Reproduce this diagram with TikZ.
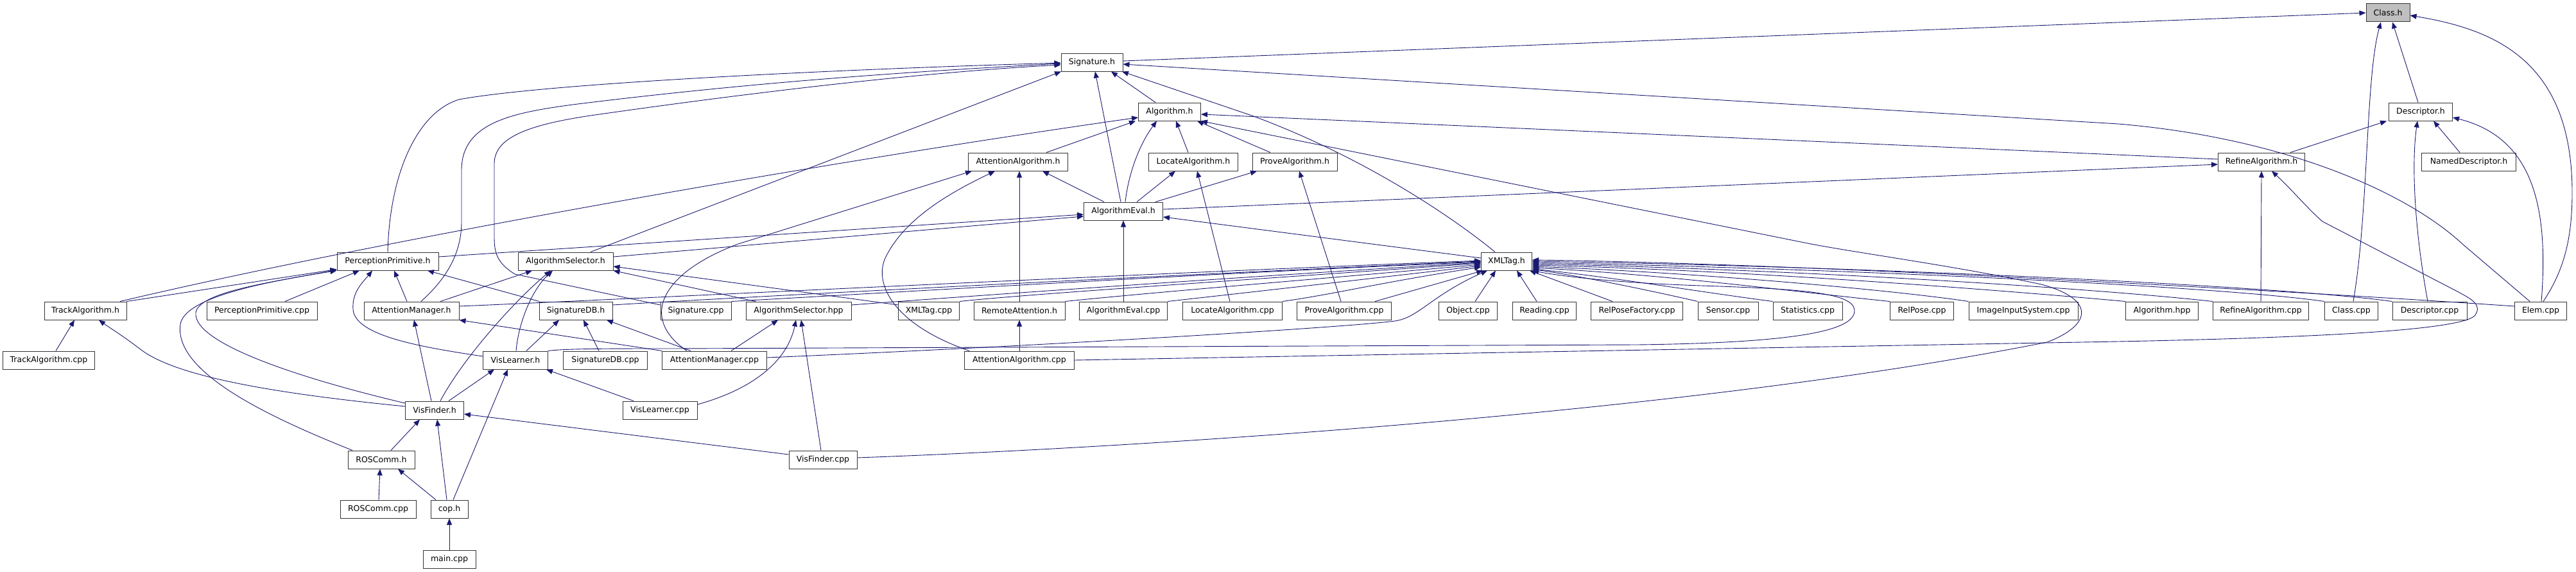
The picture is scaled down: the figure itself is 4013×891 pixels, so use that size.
\documentclass[tikz,border=0pt]{standalone}
\usepackage{fontspec}
\setmainfont{DejaVu Sans}
\usetikzlibrary{arrows.meta}
\definecolor{edgec}{HTML}{191970}
\definecolor{rootgray}{HTML}{BFBFBF}
\begin{document}
\begin{tikzpicture}[x=1pt,y=-1pt,
  box/.style={draw=black!80, line width=1pt, fill=white, minimum height=28pt, inner sep=0pt, text=black, font=\fontsize{12.5}{15}\selectfont},
  edge/.style={draw=edgec, line width=0.9pt, -{Triangle[length=10pt,width=8pt]}}]
\useasboundingbox (0,0) rectangle (4013,891);
% row 0-4
\node[box, fill=rootgray, minimum width=68pt] (classh) at (3720,20) {Class.h};
\node[box, minimum width=96pt] (sigh) at (1701,97) {Signature.h};
\node[box, minimum width=97pt] (algh) at (1822,174) {Algorithm.h};
\node[box, minimum width=99pt] (desch) at (3771,174) {Descriptor.h};
\node[box, minimum width=155pt] (aalgh) at (1586,252) {AttentionAlgorithm.h};
\node[box, minimum width=139pt] (locah) at (1859,252) {LocateAlgorithm.h};
\node[box, minimum width=132pt] (proveh) at (2017,252) {ProveAlgorithm.h};
\node[box, minimum width=135pt] (refh) at (3523,252) {RefineAlgorithm.h};
\node[box, minimum width=147pt] (ndesch) at (3846,252) {NamedDescriptor.h};
\node[box, minimum width=123pt] (aevalh) at (1750,329) {AlgorithmEval.h};
% row 5
\node[box, minimum width=158pt] (pph) at (604,407) {PerceptionPrimitive.h};
\node[box, minimum width=148pt] (ash) at (881,407) {AlgorithmSelector.h};
\node[box, minimum width=79pt] (xmlh) at (2347,407) {XMLTag.h};
% row 6
\node[box, minimum width=128pt] (trackh) at (133,484) {TrackAlgorithm.h};
\node[box, minimum width=172pt] (ppcpp) at (408,484) {PerceptionPrimitive.cpp};
\node[box, minimum width=148pt] (amh) at (641,484) {AttentionManager.h};
\node[box, minimum width=114pt] (sigdbh) at (897,484) {SignatureDB.h};
\node[box, minimum width=110pt] (sigcpp) at (1084,484) {Signature.cpp};
\node[box, minimum width=164pt] (ashpp) at (1244,484) {AlgorithmSelector.hpp};
\node[box, minimum width=95pt] (xmlcpp) at (1447,484) {XMLTag.cpp};
\node[box, minimum width=142pt] (remoteh) at (1588,484) {RemoteAttention.h};
\node[box, minimum width=137pt] (aevalcpp) at (1750,484) {AlgorithmEval.cpp};
\node[box, minimum width=155pt] (locacpp) at (1920,484) {LocateAlgorithm.cpp};
\node[box, minimum width=147pt] (provecpp) at (2094,484) {ProveAlgorithm.cpp};
\node[box, minimum width=91pt] (objcpp) at (2287,484) {Object.cpp};
\node[box, minimum width=99pt] (readcpp) at (2406,484) {Reading.cpp};
\node[box, minimum width=143pt] (rpfcpp) at (2550,484) {RelPoseFactory.cpp};
\node[box, minimum width=94pt] (sensorcpp) at (2692,484) {Sensor.cpp};
\node[box, minimum width=108pt] (statcpp) at (2816,484) {Statistics.cpp};
\node[box, minimum width=99pt] (relposecpp) at (2994,484) {RelPose.cpp};
\node[box, minimum width=170pt] (imgcpp) at (3152,484) {ImageInputSystem.cpp};
\node[box, minimum width=113pt] (alghpp) at (3368,484) {Algorithm.hpp};
\node[box, minimum width=149pt] (refcpp) at (3522,484) {RefineAlgorithm.cpp};
\node[box, minimum width=83pt] (classcpp) at (3663,484) {Class.cpp};
\node[box, minimum width=116pt] (desccpp) at (3785,484) {Descriptor.cpp};
\node[box, minimum width=81pt] (elemcpp) at (3958,484) {Elem.cpp};
% row 7-11
\node[box, minimum width=143pt] (trackcpp) at (76,561) {TrackAlgorithm.cpp};
\node[box, minimum width=101pt] (vislh) at (803,561) {VisLearner.h};
\node[box, minimum width=131pt] (sigdbcpp) at (943,561) {SignatureDB.cpp};
\node[box, minimum width=163pt] (amcpp) at (1113,561) {AttentionManager.cpp};
\node[box, minimum width=171pt] (aalgcpp) at (1588,561) {AttentionAlgorithm.cpp};
\node[box, minimum width=91pt] (visfh) at (677,639) {VisFinder.h};
\node[box, minimum width=116pt] (vislcpp) at (1028,639) {VisLearner.cpp};
\node[box, minimum width=104pt] (roscommh) at (594,716) {ROSComm.h};
\node[box, minimum width=106pt] (visfcpp) at (1282,716) {VisFinder.cpp};
\node[box, minimum width=118pt] (roscommcpp) at (589,793) {ROSComm.cpp};
\node[box, minimum width=58pt] (coph) at (700,793) {cop.h};
\node[box, minimum width=82pt] (maincpp) at (700,871) {main.cpp};

% ---- Class.h
\draw[edge] ([yshift=2pt]sigh.east) -- (classh.west);
\draw[edge] ([xshift=-4pt]desch.north) -- ([xshift=7pt]classh.south);
\draw[edge] ([xshift=3pt]classcpp.north) .. controls (3690,330) and (3685,120) .. ([xshift=-11pt]classh.south);
\draw[edge] ([xshift=4pt]elemcpp.north) .. controls (3995,420) and (4007,370) .. (4007,300) .. controls (4007,90) and (3880,45) .. ([yshift=-4pt]classh.east);
% ---- Signature.h
\draw[edge] (pph.north) .. controls (607,270) and (650,175) .. (715,155) .. controls (850,130) and (1300,108) .. ([yshift=-1pt]sigh.west);
\draw[edge] ([xshift=15pt]amh.north) .. controls (700,430) and (719,390) .. (719,345) -- (719,265) .. controls (719,190) and (800,175) .. (900,162) .. controls (1200,125) and (1450,110) .. ([yshift=-2pt]sigh.west);
\draw[edge] ([yshift=9pt]sigcpp.west) -- (802,427) .. controls (775,410) and (770,395) .. (770,370) -- (770,255) .. controls (770,215) and (820,195) .. (920,180) .. controls (1200,140) and (1450,112) .. ([yshift=-4pt]sigh.west);
\draw[edge] ([xshift=39pt]ash.north) -- ([xshift=-48pt]sigh.south);
\draw[edge] ([xshift=-4pt]aevalh.north) -- ([xshift=5pt]sigh.south);
\draw[edge] ([xshift=-22pt]algh.north) -- ([xshift=30pt]sigh.south);
\draw[edge] ([xshift=-18pt]xmlh.north) .. controls (2240,320) and (2100,235) .. (1950,180) -- ([xshift=47pt]sigh.south);
\draw[edge] ([xshift=-17pt]elemcpp.north) -- (3836,380) .. controls (3750,300) and (3560,215) .. (3300,193) -- ([yshift=-3pt]sigh.east);
% ---- Algorithm.h
\draw[edge] ([xshift=54pt]trackh.north) .. controls (600,372) and (1300,250) .. ([yshift=-9pt]algh.west);
\draw[edge] ([xshift=44pt]aalgh.north) -- ([xshift=-53pt]algh.south);
\draw[edge] ([xshift=3pt]aevalh.north) .. controls (1758,270) and (1775,225) .. ([xshift=-20pt]algh.south);
\draw[edge] ([xshift=-8pt]locah.north) -- ([xshift=10pt]algh.south);
\draw[edge] ([xshift=-38pt]proveh.north) -- ([xshift=43pt]algh.south);
\draw[edge] ([yshift=4pt]refh.west) -- ([yshift=-4pt]algh.east);
\draw[edge] ([yshift=3pt]visfcpp.east) .. controls (1700,700) and (2600,650) .. (3189,533) .. controls (3262,505) and (3262,465) .. (3180,443) .. controls (3050,415) and (2900,395) .. (2821,380) -- (algh.south east);
% ---- Descriptor.h
\draw[edge] ([xshift=45pt]refh.north) -- ([xshift=-53pt]desch.south);
\draw[edge] ([xshift=-3pt]desccpp.north) .. controls (3760,350) and (3757,250) .. ([xshift=-5pt]desch.south);
\draw[edge] ([xshift=-14pt]ndesch.north) -- ([xshift=20pt]desch.south);
\draw[edge] ([xshift=1pt]elemcpp.north) .. controls (3970,330) and (3950,215) .. ([yshift=-9pt]desch.east);
% ---- AttentionAlgorithm.h
\draw[edge] ([xshift=-43pt]amcpp.north) .. controls (995,495) and (1030,425) .. (1150,380) -- ([xshift=-72pt]aalgh.south);
\draw[edge] ([xshift=-78pt]aalgcpp.north) .. controls (1390,505) and (1360,440) .. (1380,400) .. controls (1410,340) and (1480,300) .. ([xshift=-36pt]aalgh.south);
\draw[edge] (remoteh.north) -- ([xshift=2pt]aalgh.south);
\draw[edge] ([xshift=-30pt]aevalh.north) -- ([xshift=38pt]aalgh.south);
% ---- Locate / Prove
\draw[edge] ([xshift=21pt]aevalh.north) -- ([xshift=-28pt]locah.south);
\draw[edge] ([xshift=-4pt]locacpp.north) -- ([xshift=6pt]locah.south);
\draw[edge] ([xshift=50pt]aevalh.north) -- ([xshift=-59pt]proveh.south);
\draw[edge] ([xshift=-5pt]provecpp.north) -- ([xshift=7pt]proveh.south);
% ---- RefineAlgorithm.h
\draw[edge] ([yshift=3pt]aevalh.east) -- ([yshift=-4pt]refh.west);
\draw[edge] (refcpp.north) -- (refh.south);
\draw[edge] (aalgcpp.east) -- (3300,532) .. controls (3600,526) and (3830,515) .. (3855,492) .. controls (3868,475) and (3850,466) .. (3830,455) -- (3618,345) .. controls (3595,325) and (3570,295) .. ([xshift=16pt]refh.south);
% ---- AlgorithmEval.h
\draw[edge] ([yshift=7pt]pph.east) -- ([yshift=-5pt]aevalh.west);
\draw[edge] ([yshift=7pt]ash.east) -- ([yshift=-8pt]aevalh.west);
\draw[edge] (aevalcpp.north) -- (aevalh.south);
\draw[edge] ([yshift=5pt]xmlh.west) -- ([yshift=-9pt]aevalh.east);
% ---- PerceptionPrimitive.h
\draw[edge] (trackh.north east) -- ([yshift=2pt]pph.south west);
\draw[edge] ([xshift=36pt]ppcpp.north) -- ([xshift=-44pt]pph.south);
\draw[edge] ([xshift=-7pt]amh.north) -- ([xshift=10pt]pph.south);
\draw[edge] ([yshift=6pt]vislh.west) .. controls (650,540) and (553,522) .. (550,482) .. controls (548,455) and (565,440) .. ([xshift=-24pt]pph.south);
\draw[edge] ([yshift=11pt]visfh.west) .. controls (470,590) and (300,535) .. (305,487) .. controls (310,455) and (420,440) .. ([yshift=1pt]pph.south west);
\draw[edge] ([xshift=-45pt]roscommh.north) .. controls (420,650) and (270,580) .. (281,505) .. controls (288,462) and (420,438) .. (pph.south west);
\draw[edge] ([xshift=-57pt]sigdbh.north) -- ([xshift=62pt]pph.south);
% ---- AlgorithmSelector.h
\draw[edge] ([xshift=45pt]amh.north) -- ([xshift=-52pt]ash.south);
\draw[edge] ([xshift=9pt]visfh.north) .. controls (720,560) and (800,470) .. ([xshift=-23pt]ash.south);
\draw[edge] ([xshift=1pt]vislh.north) .. controls (808,500) and (830,450) .. ([xshift=-20pt]ash.south);
\draw[edge] ([xshift=-67pt]ashpp.north) -- (ash.south east);
\draw[edge] ([yshift=9pt]xmlcpp.west) -- ([yshift=-8pt]ash.east);
% ---- TrackAlgorithm.h
\draw[edge] ([xshift=11pt]trackcpp.north) -- ([xshift=-17pt]trackh.south);
\draw[edge] ([yshift=6pt]visfh.west) .. controls (450,615) and (280,590) .. (220,545) .. controls (190,522) and (170,510) .. ([xshift=21pt]trackh.south);
% ---- AttentionManager.h
\draw[edge] ([xshift=-5pt]visfh.north) -- ([xshift=4pt]amh.south);
\draw[edge] (amcpp.north west) -- (amh.south east);
% ---- XMLTag.h from the left
\draw[edge] ([yshift=7pt]amh.east) .. controls (1000,465) and (1800,425) .. ([yshift=1pt]xmlh.west);
\draw[edge] ([yshift=9pt]sigdbh.east) .. controls (1200,460) and (1900,425) .. (xmlh.west);
\draw[edge] (sigcpp.north east) .. controls (1400,455) and (1900,425) .. ([yshift=-1pt]xmlh.west);
\draw[edge] ([yshift=9pt]ashpp.east) .. controls (1500,462) and (1950,430) .. ([yshift=-2pt]xmlh.west);
\draw[edge] (xmlcpp.north east) .. controls (1600,458) and (2000,432) .. ([yshift=-3pt]xmlh.west);
\draw[edge] (remoteh.north east) .. controls (1800,455) and (2050,435) .. ([yshift=-5pt]xmlh.west);
\draw[edge] (aevalcpp.north east) .. controls (1950,455) and (2100,438) .. ([yshift=-7pt]xmlh.west);
\draw[edge] (locacpp.north east) .. controls (2080,458) and (2150,440) .. ([yshift=-9pt]xmlh.west);
\draw[edge] ([xshift=48pt]provecpp.north) -- ([xshift=3pt]xmlh.south west);
\draw[edge] ([yshift=4pt]amcpp.east) .. controls (1600,540) and (2100,510) .. (2173,500) .. controls (2210,495) and (2230,460) .. ([xshift=-30pt]xmlh.south);
\draw[edge] ([xshift=11pt]objcpp.north) -- ([xshift=-17pt]xmlh.south);
\draw[edge] ([xshift=-12pt]readcpp.north) -- ([xshift=16pt]xmlh.south);
% ---- XMLTag.h from the right
\draw[edge] ([xshift=-38pt]rpfcpp.north) -- ([xshift=-4pt]xmlh.south east);
\draw[edge] (sensorcpp.north west) .. controls (2560,450) and (2450,428) .. ([yshift=2pt]xmlh.south east);
\draw[edge] (statcpp.north west) .. controls (2650,455) and (2500,430) .. ([yshift=-12pt]xmlh.east);
\draw[edge] (relposecpp.north west) .. controls (2800,455) and (2600,428) .. ([yshift=-10pt]xmlh.east);
\draw[edge] (imgcpp.north west) .. controls (2950,452) and (2650,425) .. ([yshift=-8pt]xmlh.east);
\draw[edge] (alghpp.north west) .. controls (3150,455) and (2750,422) .. ([yshift=-6pt]xmlh.east);
\draw[edge] (refcpp.north west) .. controls (3250,448) and (2800,420) .. ([yshift=-4pt]xmlh.east);
\draw[edge] (classcpp.north west) .. controls (3450,445) and (2850,418) .. ([yshift=-2pt]xmlh.east);
\draw[edge] (desccpp.north west) .. controls (3550,445) and (2900,415) .. (xmlh.east);
\draw[edge] ([yshift=7pt]elemcpp.west) .. controls (3600,455) and (2800,410) .. ([yshift=2pt]xmlh.east);
\draw[edge] (vislh.north east) .. controls (880,543) and (950,543) .. (1050,543) -- (2550,537) .. controls (2800,534) and (2889,515) .. (2889,484) .. controls (2889,455) and (2800,450) .. (2650,445) .. controls (2500,440) and (2420,428) .. (xmlh.south east);
% ---- SignatureDB.h
\draw[edge] ([xshift=17pt]vislh.north) -- ([xshift=-26pt]sigdbh.south);
\draw[edge] ([xshift=-10pt]sigdbcpp.north) -- ([xshift=12pt]sigdbh.south);
\draw[edge] ([xshift=-37pt]amcpp.north) -- ([xshift=48pt]sigdbh.south);
% ---- AlgorithmSelector.hpp
\draw[edge] ([xshift=26pt]amcpp.north) -- ([xshift=-32pt]ashpp.south);
\draw[edge] ([yshift=9pt]vislcpp.east) .. controls (1160,610) and (1225,570) .. ([xshift=-4pt]ashpp.south);
\draw[edge] ([xshift=-3pt]visfcpp.north) -- ([xshift=4pt]ashpp.south);
% ---- VisLearner.h
\draw[edge] ([xshift=22pt]visfh.north) -- ([xshift=-33pt]vislh.south);
\draw[edge] ([xshift=6pt]coph.north) -- ([xshift=-12pt]vislh.south);
\draw[edge] ([xshift=-41pt]vislcpp.north) -- ([xshift=48pt]vislh.south);
% ---- VisFinder.h
\draw[edge] ([xshift=15pt]roscommh.north) -- ([xshift=-23pt]visfh.south);
\draw[edge] ([xshift=-4pt]coph.north) -- ([xshift=4pt]visfh.south);
\draw[edge] ([yshift=8pt]visfcpp.west) -- ([yshift=-6pt]visfh.east);
% ---- ROSComm.h, cop.h, RemoteAttention.h
\draw[edge] ([xshift=-21pt]coph.north) -- ([xshift=26pt]roscommh.south);
\draw[edge] ([xshift=1pt]roscommcpp.north) -- ([xshift=-2pt]roscommh.south);
\draw[edge] (maincpp.north) -- (coph.south);
\draw[edge] (aalgcpp.north) -- (remoteh.south);
\end{tikzpicture}
\end{document}
